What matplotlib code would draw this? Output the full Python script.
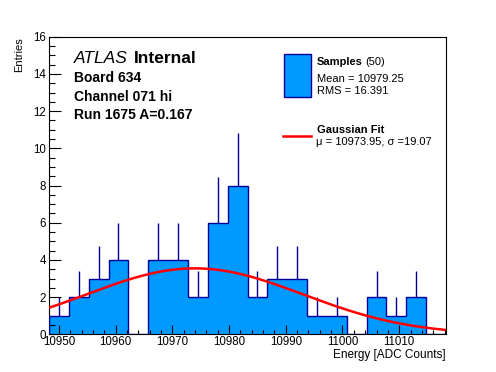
import numpy as np
import matplotlib
matplotlib.use("Agg")
import matplotlib.pyplot as plt
from matplotlib.ticker import MultipleLocator
from matplotlib.patches import Rectangle
from matplotlib.lines import Line2D

plt.rcParams['font.family'] = ['Liberation Sans', 'DejaVu Sans']

# histogram of samples (20 bins)
x_lo = 10948.25
x_hi = 11018.25
n_bins = 20
counts = [1, 2, 3, 4, 0, 4, 4, 2, 6, 8, 2, 3, 3, 1, 1, 0, 2, 1, 2, 0]

# gaussian fit parameters
fit_amp = 3.55
fit_mu = 10973.95
fit_sigma = 19.07

fill_col = '#0099ff'
line_col = '#000099'

W, H = 496, 372
fig = plt.figure(figsize=(W / 100, H / 100), dpi=100)
ax = fig.add_axes([49 / W, 1 - 334.4 / H, 397 / W, 297.7 / H])

edges = np.linspace(x_lo, x_hi, n_bins + 1)
counts = np.array(counts, dtype=float)
centers = 0.5 * (edges[:-1] + edges[1:])

ax.stairs(counts, edges, fill=True, color=fill_col, zorder=1)
nz = counts > 0
ax.vlines(centers[nz], counts[nz], counts[nz] + np.sqrt(counts[nz]),
          color=line_col, lw=1.0, zorder=2)
ax.stairs(counts, edges, baseline=0, color=line_col, lw=1.0, zorder=3)

xf = np.linspace(x_lo, x_hi, 300)
ax.plot(xf, fit_amp * np.exp(-0.5 * ((xf - fit_mu) / fit_sigma) ** 2),
        color='red', lw=1.8, zorder=4)

ax.set_xlim(x_lo, x_hi)
ax.set_ylim(0, 16)
ax.xaxis.set_major_locator(MultipleLocator(10))
ax.xaxis.set_minor_locator(MultipleLocator(2))
ax.yaxis.set_major_locator(MultipleLocator(2))
ax.yaxis.set_minor_locator(MultipleLocator(0.5))
ax.tick_params(axis='x', which='major', direction='in', length=6.5, width=0.8,
               labelsize=8.3, pad=1.5)
ax.tick_params(axis='x', which='minor', direction='in', length=3.2, width=0.8)
ax.tick_params(axis='y', which='major', direction='in', length=8.6, width=0.8,
               labelsize=8.3, pad=2)
ax.tick_params(axis='y', which='minor', direction='in', length=4.3, width=0.8)
for s in ax.spines.values():
    s.set_linewidth(0.8)

fig.text(446 / W, 1 - 358 / H, 'Energy [ADC Counts]', fontsize=8.5,
         ha='right', va='baseline')
fig.text(19 / W, 1 - 37 / H, 'Entries', fontsize=8, rotation=90,
         ha='center', va='top')


def t(x, y, s, **kw):
    fig.text(x / W, 1 - y / H, s, va='baseline', **kw)


t(74, 63.3, 'ATLAS', fontsize=12.5, style='italic')
t(133.5, 63.3, 'Internal', fontsize=12.5, weight='bold')
t(74.5, 81.7, 'Board 634', fontsize=10, weight='bold')
t(74.5, 100.7, 'Channel 071 hi', fontsize=10, weight='bold')
t(74.5, 119.3, 'Run 1675 A=0.167', fontsize=10, weight='bold')

fig.patches.append(Rectangle((283.5 / W, 1 - 96.5 / H), 27.5 / W, 43 / H,
                             transform=fig.transFigure, facecolor=fill_col,
                             edgecolor=line_col, lw=1.0))
t(317, 65.3, 'Samples', fontsize=8, weight='bold')
t(365, 65.3, '(50)', fontsize=8)
t(317, 81.7, 'Mean = 10979.25', fontsize=8)
t(317, 94, 'RMS = 16.391', fontsize=8)

fig.lines.append(Line2D([283 / W, 311 / W], [1 - 135.7 / H, 1 - 135.7 / H],
                        transform=fig.transFigure, color='red', lw=1.8))
t(317, 133.3, 'Gaussian Fit', fontsize=8, weight='bold')
t(316, 145.3, '\u03bc = 10973.95, \u03c3 =19.07', fontsize=8)

fig.savefig('out.png', dpi=100)
